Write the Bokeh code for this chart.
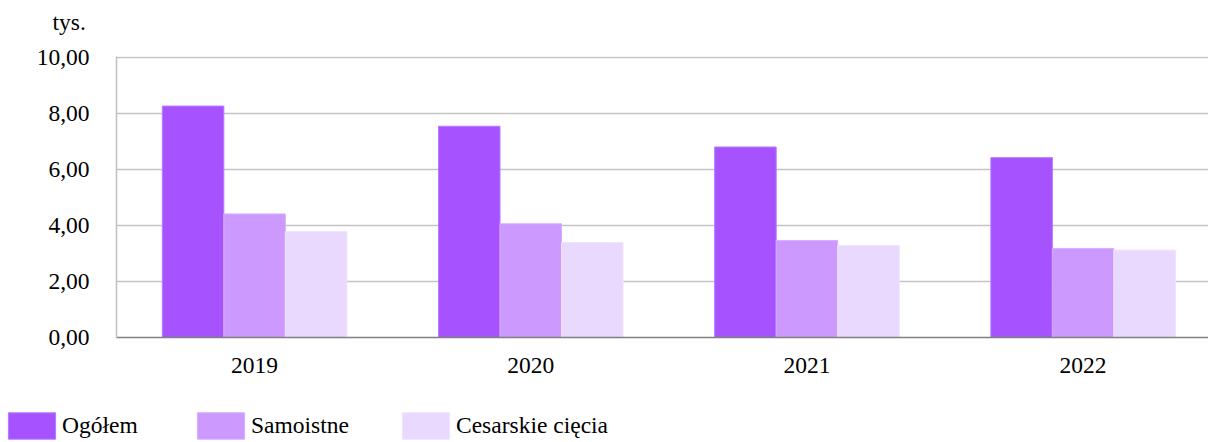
from bokeh.plotting import figure
from bokeh.models import ColumnDataSource, Range1d, FixedTicker, Legend, LegendItem, Label
from bokeh.transform import dodge
from bokeh.embed import file_html
from bokeh.resources import INLINE

# ---- data ----
years = ["2019", "2020", "2021", "2022"]
ogolem = [8.26, 7.54, 6.80, 6.42]
samoistne = [4.41, 4.06, 3.46, 3.18]
cesarskie = [3.78, 3.39, 3.28, 3.12]
series_names = ["Ogółem", "Samoistne", "Cesarskie cięcia"]
y_ticks = [0, 2, 4, 6, 8, 10]
y_tick_labels = ["0,00", "2,00", "4,00", "6,00", "8,00", "10,00"]
unit_label = "tys."

# ---- style ----
FONT = "Liberation Serif"
FS = "23.5px"
colors = ["#A652FF", "#CC99FF", "#E9D9FF"]
edges = ["#B878FF", "#D6AEFF", "#EEE3FF"]
W = 0.2227

idx = list(range(len(years)))
cols = ["ogolem", "samoistne", "cesarskie"]
source = ColumnDataSource(dict(x=idx, ogolem=ogolem, samoistne=samoistne, cesarskie=cesarskie))

# ---- top strip with the unit label ----
TOP_H = 40
t = figure(width=1208, height=TOP_H, output_backend="svg", toolbar_location=None,
           x_range=Range1d(0, 1208), y_range=Range1d(0, TOP_H),
           x_axis_location=None, y_axis_location=None,
           min_border_left=0, min_border_right=0, min_border_top=0, min_border_bottom=0)
t.grid.visible = False
t.outline_line_color = None
t.add_layout(Label(x=52, y=19, text=unit_label, text_font=FONT, text_font_size=FS,
                   text_color="black", text_align="left", text_baseline="alphabetic"))

# ---- main chart ----
p = figure(width=1208, height=360, output_backend="svg", toolbar_location=None,
           x_range=Range1d(-0.5, 3.454), y_range=Range1d(0, 10.03),
           min_border_left=116, min_border_right=0, min_border_top=16, min_border_bottom=63)
p.outline_line_color = None

for k, (col, off) in enumerate(zip(cols, [-W, 0, W])):
    p.vbar(x=dodge("x", off, range=p.x_range), top=col, width=W, bottom=0, source=source,
           fill_color=colors[k], line_color=edges[k], line_width=1)

p.yaxis.ticker = FixedTicker(ticks=y_ticks)
p.yaxis.major_label_overrides = {tk: l for tk, l in zip(y_ticks, y_tick_labels)}
p.yaxis.axis_line_color = "#c0c0c0"
p.yaxis.axis_line_width = 1.5
p.yaxis.major_tick_line_color = None
p.yaxis.minor_tick_line_color = None
p.yaxis.major_label_standoff = 21
p.yaxis.major_label_text_font = FONT
p.yaxis.major_label_text_font_size = FS
p.yaxis.major_label_text_color = "black"

p.xaxis.ticker = FixedTicker(ticks=idx)
p.xaxis.major_label_overrides = {i: y for i, y in zip(idx, years)}
p.xaxis.axis_line_color = "#808080"
p.xaxis.axis_line_width = 1.5
p.xaxis.major_tick_line_color = None
p.xaxis.minor_tick_line_color = None
p.xaxis.major_label_standoff = 14
p.xaxis.major_label_text_font = FONT
p.xaxis.major_label_text_font_size = FS
p.xaxis.major_label_text_color = "black"

p.xgrid.grid_line_color = None
p.ygrid.ticker = FixedTicker(ticks=y_ticks)
p.ygrid.grid_line_color = "#c4c4c4"
p.ygrid.grid_line_width = 1.5

# ---- legend strip (separate root; its frame covers the whole strip) ----
q = figure(width=1208, height=42, output_backend="svg", toolbar_location=None,
           x_range=Range1d(-0.5, 3.454), y_range=Range1d(100, 101),
           x_axis_location=None, y_axis_location=None,
           min_border_left=0, min_border_right=0, min_border_top=0, min_border_bottom=0)
q.grid.visible = False
q.outline_line_color = None

leg_x = [2, 191, 396]
for k, col in enumerate(cols):
    # same series, out of the strip's view: only its legend swatch is seen
    rr = q.vbar(x="x", top=col, width=W, bottom=0, source=source,
                fill_color=colors[k], line_color=edges[k], line_width=1)
    leg = Legend(items=[LegendItem(label=series_names[k], renderers=[rr])],
                 location=(leg_x[k], 0), orientation="horizontal",
                 glyph_width=59, glyph_height=33, label_standoff=1,
                 padding=0, margin=0, border_line_color=None, background_fill_alpha=0,
                 label_text_font=FONT, label_text_font_size=FS, label_text_color="black")
    q.add_layout(leg)

open("out.html", "w").write(file_html([t, p, q], INLINE))
